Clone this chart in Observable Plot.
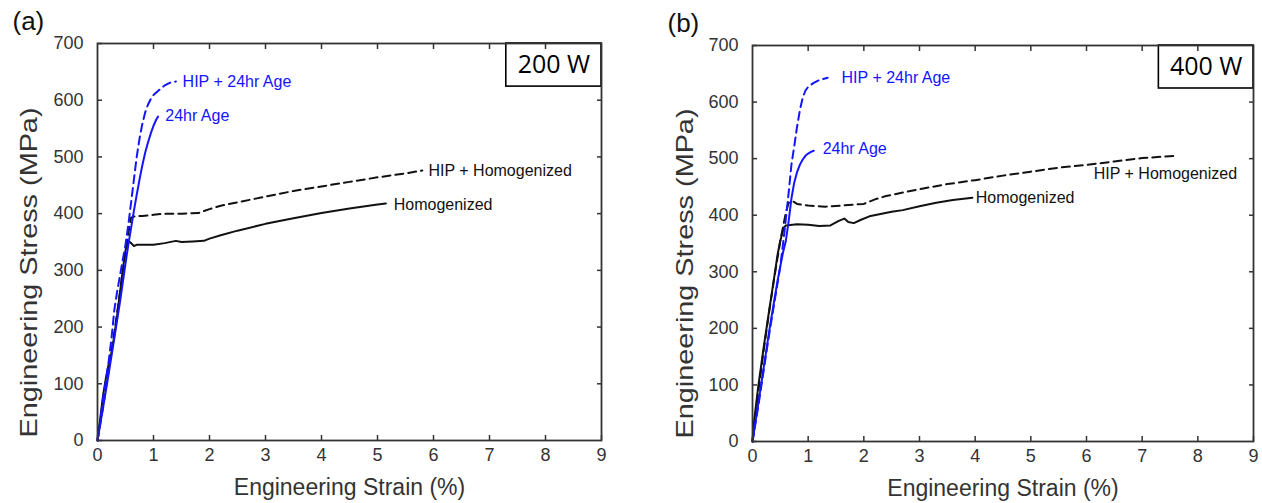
<!DOCTYPE html>
<html><head><meta charset="utf-8">
<script src="https://cdn.jsdelivr.net/npm/d3@7"></script>
<script src="https://cdn.jsdelivr.net/npm/@observablehq/plot@0.6"></script>
<style>
html,body{margin:0;padding:0;background:#fff;overflow:hidden}
#wrap{display:flex;width:1262px;height:503px}
#wrap svg{display:block}
</style></head><body><div id="wrap"></div>
<script>
// ---------- tick labels ----------
const xTicks = [0,1,2,3,4,5,6,7,8,9];
const yTicks = [0,100,200,300,400,500,600,700];
const xTitle = "Engineering Strain (%)";
const yTitle = "Engineering Stress (MPa)";

// ---------- series ----------
const seriesNames = ["Homogenized", "HIP + Homogenized", "24hr Age", "HIP + 24hr Age"];

// Panel (a) 200 W
const a_hom_strain = [0,0.05,0.1,0.15,0.2,0.25,0.3,0.35,0.4,0.45,0.5,0.55,0.6,0.65,0.7,0.8,1.0,1.2,1.4,1.5,1.7,1.9,2.0,2.2,2.5,3.0,3.5,4.0,4.5,5.0,5.15];
const a_hom_stress = [0,40,80,110,135,155,185,220,260,300,335,352,348,343,345,345,345,348,352,350,351,352,356,362,370,382,392,401,409,416,418];
const a_hiphom_strain = [0,0.1,0.2,0.3,0.4,0.5,0.55,0.6,0.65,0.8,1.0,1.2,1.5,1.8,2.0,2.2,2.5,3.0,3.5,4.0,4.5,5.0,5.5,5.8];
const a_hiphom_stress = [0,60,125,190,260,330,365,393,395,396,398,400,400,401,408,414,420,430,440,448,456,464,471,476];
const a_age_strain = [0,0.1,0.2,0.3,0.4,0.5,0.55,0.6,0.65,0.7,0.75,0.8,0.85,0.9,0.95,1.0,1.05,1.08];
const a_age_stress = [0,58,118,180,243,312,345,375,405,433,460,485,507,525,541,555,566,571];
const a_hipage_strain = [0,0.05,0.1,0.15,0.2,0.25,0.3,0.35,0.4,0.45,0.5,0.55,0.6,0.65,0.7,0.75,0.8,0.85,0.9,0.95,1.0,1.1,1.2,1.3,1.4];
const a_hipage_stress = [0,35,75,105,140,180,230,262,290,318,345,380,420,460,500,532,558,578,592,602,609,618,626,631,633];

// Panel (b) 400 W
const b_hom_strain = [0,0.03,0.1,0.2,0.3,0.38,0.45,0.5,0.56,0.6,0.8,1.0,1.2,1.4,1.55,1.65,1.72,1.82,1.95,2.1,2.3,2.5,2.7,3.0,3.3,3.6,3.95];
const b_hom_stress = [0,37,95,166,232,284,330,355,378,382,384,383,381,382,390,394,388,386,392,398,402,406,409,416,422,427,431];
const b_hiphom_strain = [0,0.1,0.2,0.3,0.4,0.5,0.6,0.65,0.72,0.8,1.0,1.3,1.6,2.0,2.2,2.4,2.7,3.0,3.5,4.0,4.5,5.0,5.5,6.0,6.5,7.0,7.6];
const b_hiphom_stress = [0,85,160,230,295,355,405,422,425,420,417,415,417,420,428,434,440,446,455,462,470,477,484,489,495,501,505];
const b_age_strain = [0,0.1,0.2,0.3,0.4,0.45,0.5,0.55,0.6,0.65,0.7,0.75,0.8,0.85,0.9,0.95,1.0,1.05,1.1];
const b_age_stress = [0,65,130,195,255,284,310,335,355,390,430,458,476,489,498,505,509,512,514];
const b_hipage_strain = [0,0.1,0.2,0.3,0.4,0.5,0.57,0.65,0.7,0.75,0.8,0.85,0.9,0.95,1.0,1.1,1.2,1.35];
const b_hipage_stress = [0,60,125,190,250,310,367,440,490,522,556,585,607,620,627,634,639,643];

// curve label anchors (data units), order = seriesNames
const a_label_strain = [5.29, 5.91, 1.21, 1.52];
const a_label_stress = [416, 476, 573, 632];
const b_label_strain = [4.01, 6.13, 1.26, 1.6];
const b_label_stress = [431, 473, 518, 643];

// power box (data units)
const boxStrain = [7.3, 9];
const boxStress = [624, 700];

// ---------- styles ----------
const seriesStroke = ["#111", "#111", "#1414ff", "#1414ff"];
const seriesDash = [null, "8,5", null, "8,5"];

function rows(xs, ys) { return xs.map((x, i) => ({strain: x, stress: ys[i]})); }

function panel(cfg) {
  const marks = [];
  cfg.series.forEach((s, i) => {
    marks.push(Plot.line(rows(s[0], s[1]), {
      x: "strain", y: "stress", stroke: seriesStroke[i], strokeWidth: 2,
      strokeDasharray: seriesDash[i]
    }));
  });
  const labels = seriesNames.map((n, i) => ({name: n, strain: cfg.lx[i], stress: cfg.ly[i], i}));
  marks.push(Plot.text(labels, {
    x: "strain", y: "stress", text: "name", textAnchor: "start",
    fill: d => seriesStroke[d.i], fontSize: 16, lineAnchor: "middle"
  }));
  // power box
  marks.push(Plot.rect([{x1: boxStrain[0], x2: boxStrain[1], y1: boxStress[0], y2: boxStress[1]}], {
    x1: "x1", x2: "x2", y1: "y1", y2: "y2", fill: "white", stroke: "#000", strokeWidth: 1.6
  }));
  marks.push(Plot.text([cfg.power], {
    x: (boxStrain[0] + boxStrain[1]) / 2, y: (boxStress[0] + boxStress[1]) / 2,
    text: d => d, fontSize: 25, fontFamily: "Open Sans, Noto Sans, sans-serif", fill: "#000",
    lineAnchor: "middle"
  }));
  marks.push(Plot.frame({stroke: "#333", strokeWidth: 1.8}));
  marks.push(Plot.axisX({ticks: xTicks, tickSize: -5, tickPadding: 13, label: null, stroke: "#333", strokeWidth: 1.5, fill: "#333", fontSize: 18}));
  marks.push(Plot.axisX({anchor: "top", ticks: xTicks.slice(1, -1), tickSize: -5, tickFormat: () => "", label: null, stroke: "#333", strokeWidth: 1.5}));
  marks.push(Plot.axisY({ticks: yTicks, tickSize: -5, tickPadding: 19, label: null, stroke: "#333", strokeWidth: 1.5, fill: "#333", fontSize: 18}));
  marks.push(Plot.axisY({anchor: "right", ticks: yTicks.slice(1, -1), tickSize: -5, tickFormat: () => "", label: null, stroke: "#333", strokeWidth: 1.5}));
  // titles
  marks.push(Plot.text([xTitle], {frameAnchor: "bottom", text: d => d, dy: 47.5, lineAnchor: "middle", fontSize: 23, fill: "#333"}));
  marks.push(Plot.text([yTitle], {frameAnchor: "left", text: d => d, dx: cfg.ylx, dy: cfg.yly, rotate: -90, textAnchor: "start", lineAnchor: "middle", fontSize: 24, fill: "#333"}));
  marks.push(Plot.text([cfg.letter], {frameAnchor: "top-left", text: d => d, dx: cfg.letterDx, dy: -14, lineAnchor: "bottom", textAnchor: "start", fontSize: 26, fill: "#111"}));

  const svg = Plot.plot({
    width: 631, height: 503,
    marginLeft: cfg.ml, marginRight: cfg.mr, marginTop: cfg.mt, marginBottom: cfg.mb,
    x: {domain: [0, 9]},
    y: {domain: [0, 700]},
    style: {fontFamily: "Liberation Sans, Arial, sans-serif", fontSize: "18px", background: "white", overflow: "visible"},
    marks
  });
  d3.select(svg).selectAll("text").filter(function() { return this.textContent === yTitle; })
    .attr("textLength", 330).attr("lengthAdjust", "spacingAndGlyphs");
  return svg;
}

const wrap = document.getElementById("wrap");
wrap.appendChild(panel({
  series: [[a_hom_strain, a_hom_stress], [a_hiphom_strain, a_hiphom_stress], [a_age_strain, a_age_stress], [a_hipage_strain, a_hipage_stress]],
  lx: a_label_strain, ly: a_label_stress, power: "200 W", letter: "(a)",
  ml: 97, mr: 30, mt: 43, mb: 63, ylx: -68, yly: 195.5, letterDx: -85
}));
wrap.appendChild(panel({
  series: [[b_hom_strain, b_hom_stress], [b_hiphom_strain, b_hiphom_stress], [b_age_strain, b_age_stress], [b_hipage_strain, b_hipage_stress]],
  lx: b_label_strain, ly: b_label_stress, power: "400 W", letter: "(b)",
  ml: 121, mr: 9, mt: 45, mb: 62, ylx: -67, yly: 195, letterDx: -85
}));
</script></body></html>
